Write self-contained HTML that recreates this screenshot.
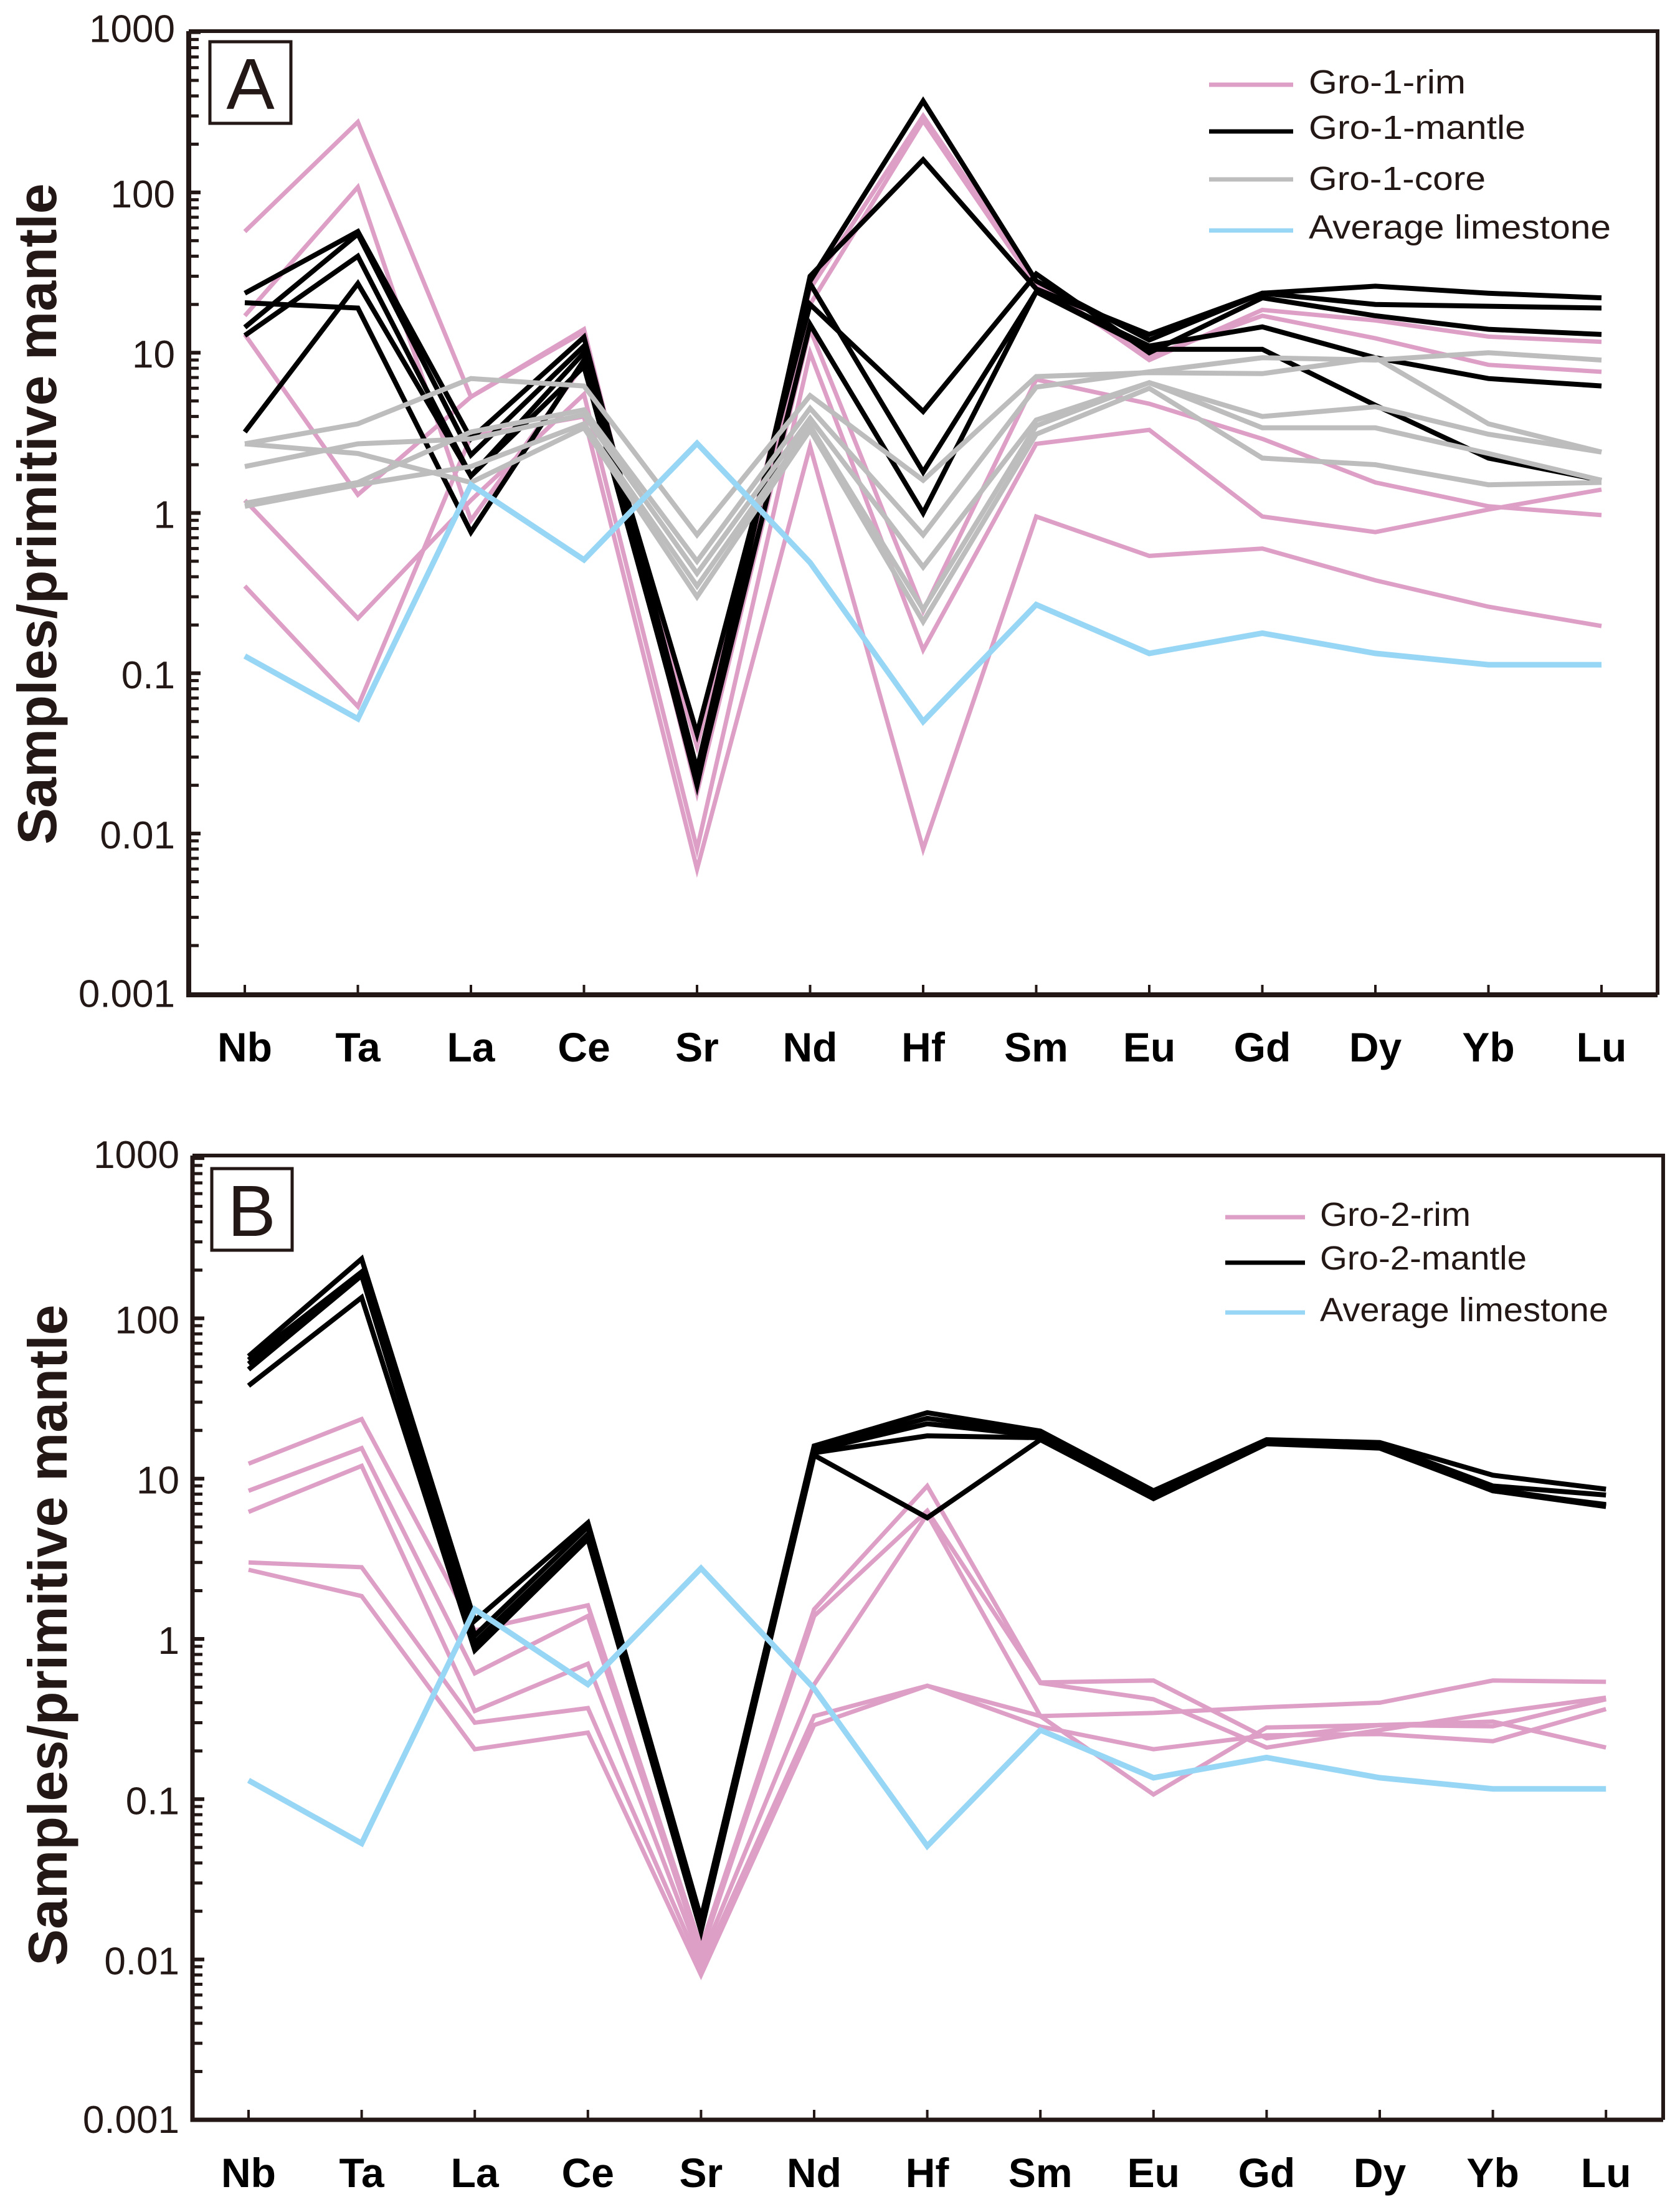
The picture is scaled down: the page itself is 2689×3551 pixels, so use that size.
<!DOCTYPE html>
<html lang="en">
<head>
<meta charset="utf-8">
<title>Primitive-mantle-normalised trace element diagrams</title>
<style>
html,body{margin:0;padding:0;background:#fff;}
svg{display:block;}
text{font-family:"Liberation Sans",sans-serif;fill:#231815;}
.tick{font-size:62px;}
.cat{font-size:66px;font-weight:bold;fill:#000;text-anchor:middle;}
.ytitle{font-size:88px;font-weight:bold;text-anchor:middle;}
.leg{font-size:54px;}
.badge{font-size:116px;text-anchor:middle;}
.frame{fill:none;stroke:#231815;}
</style>
</head>
<body>
<svg id="chart" xmlns="http://www.w3.org/2000/svg" width="2689" height="3551" viewBox="0 0 2689 3551">
  <rect x="0" y="0" width="2689" height="3551" fill="#ffffff"/>

  <g id="panelA">
    <text class="ytitle" transform="translate(90,825) rotate(-90)">Samples/primitive mantle</text>
    <g id="seriesA"></g>
    <g id="axesA"></g>
    <path class="frame" stroke-width="6" d="M303 50H2661V1597"/>
    <path class="frame" stroke-width="8" d="M303 50V1597H2661"/>
    <rect x="337" y="67" width="130" height="131" fill="#fff" stroke="#231815" stroke-width="5"/>
    <text class="badge" x="402" y="175">A</text>
    <g>
      <line x1="1941" x2="2076" y1="136" y2="136" stroke="#dd9fc6" stroke-width="7"/>
      <text class="leg" x="2101" y="150" textLength="252" lengthAdjust="spacingAndGlyphs">Gro-1-rim</text>
      <line x1="1941" x2="2076" y1="211" y2="211" stroke="#000" stroke-width="7"/>
      <text class="leg" x="2101" y="223" textLength="348" lengthAdjust="spacingAndGlyphs">Gro-1-mantle</text>
      <line x1="1941" x2="2076" y1="288" y2="288" stroke="#bdbdbd" stroke-width="7"/>
      <text class="leg" x="2101" y="305" textLength="284" lengthAdjust="spacingAndGlyphs">Gro-1-core</text>
      <line x1="1941" x2="2076" y1="370" y2="370" stroke="#98d6f5" stroke-width="7"/>
      <text class="leg" x="2101" y="383" textLength="485" lengthAdjust="spacingAndGlyphs">Average limestone</text>
    </g>
  </g>

  <g id="panelB">
    <text class="ytitle" transform="translate(107,2625) rotate(-90)">Samples/primitive mantle</text>
    <g id="seriesB"></g>
    <g id="axesB"></g>
    <path class="frame" stroke-width="6" d="M309 1855H2670V3403"/>
    <path class="frame" stroke-width="7" d="M309 1855V3403H2670"/>
    <rect x="340" y="1876" width="129" height="131" fill="#fff" stroke="#231815" stroke-width="5"/>
    <text class="badge" x="404" y="1984">B</text>
    <g>
      <line x1="1967" x2="2095" y1="1954" y2="1954" stroke="#dd9fc6" stroke-width="7"/>
      <text class="leg" x="2119" y="1968" textLength="242" lengthAdjust="spacingAndGlyphs">Gro-2-rim</text>
      <line x1="1967" x2="2095" y1="2027" y2="2027" stroke="#000" stroke-width="7"/>
      <text class="leg" x="2119" y="2038" textLength="332" lengthAdjust="spacingAndGlyphs">Gro-2-mantle</text>
      <line x1="1967" x2="2095" y1="2107" y2="2107" stroke="#98d6f5" stroke-width="7"/>
      <text class="leg" x="2119" y="2121" textLength="463" lengthAdjust="spacingAndGlyphs">Average limestone</text>
    </g>
  </g>
</svg>

<script>
const categories = ["Nb","Ta","La","Ce","Sr","Nd","Hf","Sm","Eu","Gd","Dy","Yb","Lu"];
const yTickValues = [1000,100,10,1,0.1,0.01,0.001];
const yTickLabels = ["1000","100","10","1","0.1","0.01","0.001"];

const averageLimestoneA = [0.128,0.052,1.5,0.51,2.72,0.49,0.05,0.268,0.133,0.178,0.133,0.113,0.113];
const averageLimestoneB = [0.131,0.053,1.53,0.52,2.76,0.49,0.051,0.27,0.136,0.182,0.136,0.116,0.116];

const gro1Rim = [
  [17,108,0.9,8.5,0.035,25,300,28,9,18.5,15.9,12.6,11.7],
  [57,275,5.3,14,0.02,20,280,26,9.5,17,12.3,8.4,7.6],
  [13,1.3,5.3,13.5,0.018,14,0.245,6.8,4.8,2.9,1.55,1.1,0.97],
  [1.2,0.22,1.2,5.5,0.008,10,0.14,2.7,3.3,0.95,0.76,1.05,1.4],
  [0.35,0.062,3,4,0.006,2.6,0.008,0.95,0.54,0.6,0.38,0.26,0.197]
];
const gro1Mantle = [
  [23.5,57,2.9,12.5,0.025,28,372,28,12,23.5,26,23.5,22],
  [14.4,55,2.3,11,0.02,30,160,25,13,23.5,20,19.5,19],
  [12.8,40,1.7,10,0.042,20,4.3,31,10,22,17,14,13],
  [3.2,27,1.7,8.2,0.022,27,1.8,24,11,14.5,9.3,6.9,6.2],
  [20.5,19,0.76,9,0.021,15,1,24,10.5,10.5,4.7,2.2,1.6]
];
const gro1Core = [
  [2.7,3.6,6.9,6.2,0.73,5.4,1.6,7.1,7.5,7.4,9.3,3.6,2.4],
  [1.15,1.55,3.2,4.4,0.5,4.5,0.73,6.1,7.6,9.3,9,10,9],
  [1.95,2.7,2.9,4.1,0.42,3.9,0.46,3.8,6.5,4,4.6,3.1,2.4],
  [1.1,1.5,1.95,3.6,0.35,3.5,0.25,3.5,6.5,3.4,3.4,2.35,1.6],
  [2.7,2.35,1.55,3.4,0.3,3.3,0.21,3.1,6,2.2,2,1.5,1.55]
];
const gro2Rim = [
  [12.4,23.5,1.13,1.62,0.012,1.53,9,0.535,0.55,0.24,0.29,0.305,0.21],
  [8.4,15.5,0.61,1.39,0.011,1.39,6.3,0.53,0.42,0.21,0.27,0.345,0.43],
  [6.2,12,0.355,0.7,0.01,0.52,6,0.33,0.107,0.28,0.29,0.285,0.42],
  [3,2.8,0.3,0.37,0.009,0.33,0.51,0.33,0.345,0.375,0.4,0.55,0.54],
  [2.7,1.85,0.205,0.26,0.008,0.29,0.51,0.284,0.205,0.25,0.255,0.23,0.365]
];
const gro2Mantle = [
  [58,235,1.3,5.3,0.018,16,25.8,19.8,8.4,17.5,16.8,10.5,8.6],
  [55,195,1.05,5,0.017,15.5,23.8,19,8,17.3,16.5,9,7.9],
  [52,190,0.95,4.5,0.016,15,22,18.5,7.8,17,16.2,8.6,6.8],
  [48,185,0.9,4.3,0.016,14.5,18.5,18,7.6,16.8,15.8,8.4,6.7],
  [38,135,0.85,4.2,0.015,14,5.7,17.5,7.5,16.5,15.5,8.4,6.9]
];

const SVG_NS = "http://www.w3.org/2000/svg";
const panelAGeom = {left:303,bottom:1597,x0:393,stepX:181.5,y1:823.5,decade:257.3,tickX:281,catY:1704,topLabelShift:-8};
const panelBGeom = {left:309,bottom:3403,x0:399,stepX:181.6,y1:2631,decade:257.3,tickX:288,catY:3511,topLabelShift:-8};

function xScale(geom,i){ return geom.x0 + i*geom.stepX; }
function yScale(geom,v){ return geom.y1 - Math.log10(v)*geom.decade; }

function drawSeries(parent,geom,rows,color,width,name){
  rows.forEach(function(row,idx){
    const pts = row.map(function(v,i){ return xScale(geom,i).toFixed(1)+","+yScale(geom,v).toFixed(1); }).join(" ");
    const el = document.createElementNS(SVG_NS,"polyline");
    el.setAttribute("points",pts);
    el.setAttribute("fill","none");
    el.setAttribute("stroke",color);
    el.setAttribute("stroke-width",width);
    el.setAttribute("stroke-linejoin","miter");
    el.setAttribute("stroke-miterlimit","12");
    
    
    parent.appendChild(el);
  });
}

function drawAxes(parent,geom){
  yTickValues.forEach(function(v,i){
    const y = yScale(geom,v);
    const label = document.createElementNS(SVG_NS,"text");
    const last = i === yTickValues.length-1;
    label.setAttribute("class","tick");
    label.setAttribute("x",geom.tickX);
    label.setAttribute("y",(y+(last?21:24)+(i===0?geom.topLabelShift:0)).toFixed(1));
    label.setAttribute("text-anchor","end");
    label.textContent = yTickLabels[i];
    
    
    parent.appendChild(label);
    if(!last){
      const major = document.createElementNS(SVG_NS,"line");
      major.setAttribute("x1",geom.left);
      major.setAttribute("x2",geom.left+19);
      major.setAttribute("y1",y);
      major.setAttribute("y2",y);
      major.setAttribute("stroke","#231815");
      major.setAttribute("stroke-width","6");
      
      
      parent.appendChild(major);
      for(let m=2;m<=9;m++){
        const my = yScale(geom,v/10*m);
        const minor = document.createElementNS(SVG_NS,"line");
        minor.setAttribute("x1",geom.left);
        minor.setAttribute("x2",geom.left+16);
        minor.setAttribute("y1",my);
        minor.setAttribute("y2",my);
        minor.setAttribute("stroke","#231815");
        minor.setAttribute("stroke-width","5");
        
        
        parent.appendChild(minor);
      }
    }
  });
  categories.forEach(function(c,i){
    const x = xScale(geom,i);
    const tick = document.createElementNS(SVG_NS,"line");
    tick.setAttribute("x1",x);
    tick.setAttribute("x2",x);
    tick.setAttribute("y1",geom.bottom);
    tick.setAttribute("y2",geom.bottom-16);
    tick.setAttribute("stroke","#231815");
    tick.setAttribute("stroke-width","4");
    
    
    parent.appendChild(tick);
    const label = document.createElementNS(SVG_NS,"text");
    label.setAttribute("class","cat");
    label.setAttribute("x",x);
    label.setAttribute("y",geom.catY);
    label.textContent = c;
    
    
    parent.appendChild(label);
  });
}

const seriesA = document.getElementById("seriesA");
const seriesB = document.getElementById("seriesB");
drawSeries(seriesA,panelAGeom,gro1Rim,"#dd9fc6",7,"gro-1-rim");
drawSeries(seriesA,panelAGeom,gro1Mantle,"#000000",8,"gro-1-mantle");
drawSeries(seriesA,panelAGeom,gro1Core,"#bdbdbd",8,"gro-1-core");
drawSeries(seriesA,panelAGeom,[averageLimestoneA],"#98d6f5",9,"average-limestone-a");
drawSeries(seriesB,panelBGeom,gro2Rim,"#dd9fc6",7,"gro-2-rim");
drawSeries(seriesB,panelBGeom,gro2Mantle,"#000000",8,"gro-2-mantle");
drawSeries(seriesB,panelBGeom,[averageLimestoneB],"#98d6f5",9,"average-limestone-b");
drawAxes(document.getElementById("axesA"),panelAGeom);
drawAxes(document.getElementById("axesB"),panelBGeom);
</script>
</body>
</html>
